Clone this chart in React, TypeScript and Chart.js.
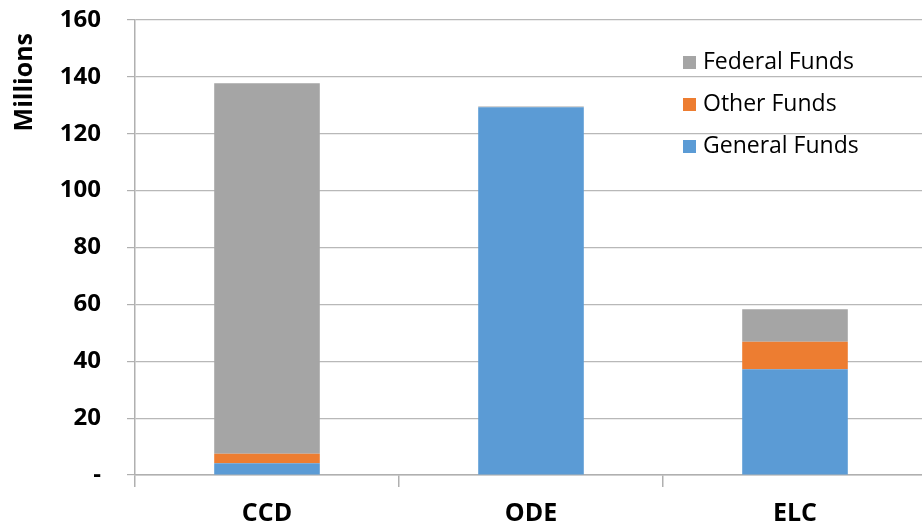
import React, { useEffect, useRef } from "react";
import { Chart, registerables } from "chart.js";

Chart.register(...registerables);

const categories = ["CCD", "ODE", "ELC"];
const generalFunds = [4.1, 129.3, 37.2];
const otherFunds = [3.4, 0, 9.7];
const federalFunds = [130.3, 0.3, 11.4];
const yTicks = [0, 20, 40, 60, 80, 100, 120, 140, 160];

const FONT = "'Open Sans', 'Liberation Sans', sans-serif";

const legendPlugin = {
  id: "insideLegend",
  afterDatasetsDraw(chart: any) {
    const { ctx, chartArea } = chart;
    const ds = chart.data.datasets.slice().reverse();
    const x0 = chartArea.right - 244;
    const y0 = chartArea.top + 42;
    ctx.save();
    ctx.font = `23px ${FONT}`;
    ctx.textBaseline = "middle";
    ctx.textAlign = "left";
    ds.forEach((d: any, i: number) => {
      const y = y0 + i * 42;
      ctx.fillStyle = d.backgroundColor;
      ctx.fillRect(x0, y - 6, 13, 13);
      ctx.fillStyle = "#000";
      ctx.fillText(d.label, x0 + 20, y);
    });
    ctx.restore();
  },
};

export default function App() {
  const ref = useRef<HTMLCanvasElement>(null);
  useEffect(() => {
    if (!ref.current) return;
    const chart = new Chart(ref.current, {
      type: "bar",
      data: {
        labels: categories,
        datasets: [
          { label: "General Funds", data: generalFunds, backgroundColor: "#5B9BD5", barPercentage: 0.8, categoryPercentage: 0.5 },
          { label: "Other Funds", data: otherFunds, backgroundColor: "#ED7D31", barPercentage: 0.8, categoryPercentage: 0.5 },
          { label: "Federal Funds", data: federalFunds, backgroundColor: "#A5A5A5", barPercentage: 0.8, categoryPercentage: 0.5 },
        ],
      },
      options: {
        responsive: false,
        animation: false,
        layout: { padding: { top: 20, right: 1, left: 0, bottom: 0 } },
        plugins: { legend: { display: false }, tooltip: { enabled: false } },
        scales: {
          x: {
            stacked: true,
            grid: { drawOnChartArea: false, offset: true, tickLength: 12, color: "#b0b0b0", lineWidth: 1.5 },
            border: { display: true, color: "#b0b0b0", width: 1.5 },
            ticks: { color: "#000", font: { family: FONT, size: 25, weight: "bold" }, padding: 12 },
            afterFit: (s: any) => { s.height = 56; s.paddingLeft = 0; s.paddingRight = 0; },
          },
          y: {
            stacked: true,
            min: 0,
            max: 160,
            afterBuildTicks: (s: any) => { s.ticks = yTicks.map((v) => ({ value: v })); },
            grid: { color: "#b8b8b8", lineWidth: 1.2, tickLength: 8, tickColor: "#b0b0b0" },
            border: { display: true, color: "#b0b0b0", width: 1.5 },
            ticks: {
              color: "#000",
              font: { family: FONT, size: 24, weight: "bold" },
              padding: 26,
              callback: (v: any) => (Number(v) === 0 ? "-" : String(v)),
            },
            title: {
              display: true,
              text: "Millions  ",
              align: "end",
              color: "#000",
              font: { family: FONT, size: 25, weight: "bold" },
              padding: { top: 10, bottom: 0 },
            },
            afterFit: (s: any) => { s.width = 135; s.paddingTop = 0; s.paddingBottom = 0; },
          },
        },
      },
      plugins: [legendPlugin],
    });
    return () => chart.destroy();
  }, []);
  return (
    <div style={{ position: "fixed", left: 0, top: 0, width: 922, height: 531, overflow: "hidden", background: "#fff" }}>
      <canvas ref={ref} width={928} height={531} style={{ display: "block", width: 928, height: 531 }} />
    </div>
  );
}
